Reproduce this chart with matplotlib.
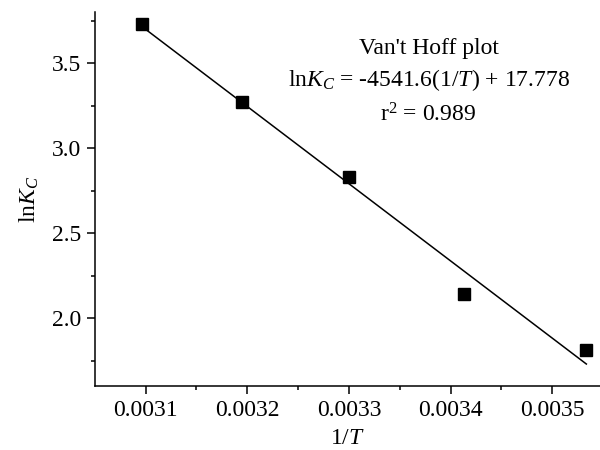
import matplotlib
matplotlib.use("Agg")
import matplotlib.pyplot as plt
import numpy as np

# Van't Hoff data
inv_T = [1 / 323.0, 1 / 313.0, 1 / 303.0, 1 / 293.0, 1 / 283.0]
ln_Kc = [3.73, 3.27, 2.83, 2.14, 1.81]
slope = -4541.6
intercept = 17.778
r2 = 0.989

plt.rcParams['font.family'] = ['Liberation Serif', 'DejaVu Serif']
plt.rcParams['mathtext.fontset'] = 'custom'
plt.rcParams['mathtext.rm'] = 'Liberation Serif'
plt.rcParams['mathtext.it'] = 'Liberation Serif:italic'
fs = 17

fig = plt.figure(figsize=(6, 4.5), dpi=100)
ax = fig.add_axes([0.158, 0.142, 0.842, 0.831])

x_fit = np.array([inv_T[0], inv_T[-1]])
ax.plot(x_fit, slope * x_fit + intercept, color='black', lw=1.1)
ax.plot(inv_T, ln_Kc, 's', color='black', markersize=8, clip_on=False)

ax.set_xlim(0.00305, 0.003547)
ax.set_ylim(1.6, 3.8)
ax.set_xticks([0.0031, 0.0032, 0.0033, 0.0034, 0.0035])
ax.set_xticklabels(["0.0031", "0.0032", "0.0033", "0.0034", "0.0035"])
ax.set_xticks([0.00315, 0.00325, 0.00335, 0.00345], minor=True)
ax.set_yticks([2.0, 2.5, 3.0, 3.5])
ax.set_yticklabels(["2.0", "2.5", "3.0", "3.5"])
ax.set_yticks([1.75, 2.25, 2.75, 3.25, 3.75], minor=True)

for s in ['top', 'right']:
    ax.spines[s].set_visible(False)
for s in ['left', 'bottom']:
    ax.spines[s].set_linewidth(1.1)
ax.tick_params(which='major', direction='out', length=5.8, width=1.1, labelsize=fs, pad=4)
ax.tick_params(which='minor', direction='out', length=3.2, width=1.1)

ax.set_xlabel(r'1/$T$', fontsize=fs, labelpad=5)
ax.set_ylabel(r'ln$K_C$', fontsize=fs, labelpad=8)

fig.text(0.715, 0.893, "Van't Hoff plot", ha='center', va='center', fontsize=fs)
fig.text(0.715, 0.823, r'ln$K_C$ = -4541.6(1/$T$) + 17.778', ha='center', va='center', fontsize=fs)
fig.text(0.713, 0.745, r'r$^2$ = %.3f' % r2, ha='center', va='center', fontsize=fs)

fig.savefig("out.png", dpi=100)
